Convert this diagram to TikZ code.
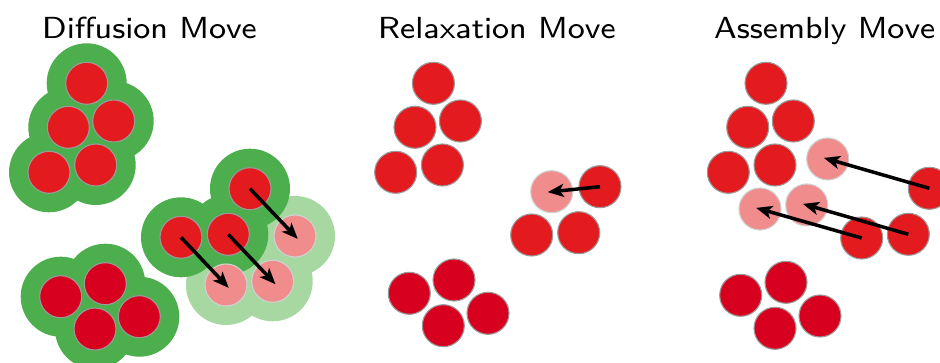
\documentclass[tikz,border=0pt]{standalone}
\usetikzlibrary{arrows.meta}
\definecolor{cred}{HTML}{E31B1F}
\definecolor{dred}{HTML}{D7001E}
\definecolor{dgreen}{HTML}{4DAE4D}
\definecolor{lgreen}{HTML}{A8D8A2}
\definecolor{cpink}{HTML}{F08C8C}
\definecolor{rim}{HTML}{9A9A9A}
\definecolor{lrim}{HTML}{D0D0D0}
\font\ttlfont="[lmsans8-regular.otf]" at 30.5pt
\newcommand{\ttltext}[1]{\scalebox{1.05}[1]{\ttlfont #1}}
\begin{document}
\begin{tikzpicture}[x=1pt,y=-1pt,
  halo/.style={circle,fill=dgreen,minimum size=80pt,inner sep=0pt},
  lhalo/.style={circle,fill=lgreen,minimum size=80pt,inner sep=0pt},
  rc/.style={circle,fill=cred,draw=rim,line width=1.1pt,minimum size=42pt,inner sep=0pt},
  drc/.style={rc,fill=dred},
  gc/.style={rc,fill=cpink,draw=lrim},
  mv/.style={line width=3.5pt,-{Stealth[length=16pt,width=13pt,inset=4pt]},shorten >=-4pt},
  ttl/.style={anchor=base west,inner sep=0pt}]
\useasboundingbox (0,0) rectangle (940,363);
% titles
\node[ttl] (t1) at (42,38.5) {\ttltext{Diffusion Move}};
\node[ttl] (t2) at (378,38.5) {\ttltext{Relaxation Move}};
\node[ttl] (t3) at (714,38.5) {\ttltext{Assembly Move}};
% ---------- Diffusion ----------
\foreach \n/\p in {la/{(295,236)},lb/{(226,285)},lc/{(272.7,281.3)}}
  \node[lhalo] (\n) at \p {};
\foreach \n/\p in {ha1/{(86.7,83.3)},ha2/{(68.3,127.3)},ha3/{(113.7,121)},ha4/{(49,172.3)},ha5/{(95.7,165)},
  hb1/{(60.7,296.7)},hb2/{(105.3,283.7)},hb3/{(95,329)},hb4/{(139.3,316.7)},
  hm1/{(250,188.7)},hm2/{(181,237.3)},hm3/{(228.3,234.3)}}
  \node[halo] (\n) at \p {};
\node[gc] (dg1) at (295,236) {};
\node[gc] (dg2) at (226,285) {};
\node[gc] (dg3) at (272.7,281.3) {};
\node[rc] (da1) at (86.7,83.3) {};
\node[rc] (da2) at (68.3,127.3) {};
\node[rc] (da3) at (113.7,121) {};
\node[rc] (da4) at (49,172.3) {};
\node[rc] (da5) at (95.7,165) {};
\node[drc] (db1) at (60.7,296.7) {};
\node[drc] (db2) at (105.3,283.7) {};
\node[drc] (db3) at (95,329) {};
\node[drc] (db4) at (139.3,316.7) {};
\node[rc] (dm1) at (250,188.7) {};
\node[rc] (dm2) at (181,237.3) {};
\node[rc] (dm3) at (228.3,234.3) {};
\draw[mv] (dm1.center) -- (dg1.center);
\draw[mv] (dm2.center) -- (dg2.center);
\draw[mv] (dm3.center) -- (dg3.center);
% ---------- Relaxation ----------
\node[rc] (ra1) at (433.4,83.3) {};
\node[rc] (ra2) at (415,127.3) {};
\node[rc] (ra3) at (460.4,121) {};
\node[rc] (ra4) at (395.7,172.3) {};
\node[rc] (ra5) at (442.4,165) {};
\node[drc] (rb1) at (409.3,293.3) {};
\node[drc] (rb2) at (454,280) {};
\node[drc] (rb3) at (443.3,325.7) {};
\node[drc] (rb4) at (488,313.3) {};
\node[gc] (rg1) at (551.7,191.7) {};
\node[rc] (rm1) at (600,186.7) {};
\node[rc] (rm2) at (531.7,235) {};
\node[rc] (rm3) at (578.7,232.7) {};
\draw[mv] (rm1.center) -- (rg1.center);
% ---------- Assembly ----------
\node[rc] (aa1) at (766,83.3) {};
\node[rc] (aa2) at (747.7,127.3) {};
\node[rc] (aa3) at (793.3,121) {};
\node[rc] (aa4) at (728.3,172.3) {};
\node[rc] (aa5) at (775,165) {};
\node[gc] (ag1) at (827.7,159) {};
\node[gc] (ag2) at (760,209) {};
\node[gc] (ag3) at (806.7,205) {};
\node[rc] (am1) at (929.3,188.3) {};
\node[rc] (am2) at (861.7,238) {};
\node[rc] (am3) at (908.3,234.3) {};
\node[drc] (ab1) at (740.7,295.3) {};
\node[drc] (ab2) at (786,282.3) {};
\node[drc] (ab3) at (775,328.3) {};
\node[drc] (ab4) at (820,316) {};
\draw[mv] (am1.center) -- (ag1.center);
\draw[mv] (am3.center) -- (ag3.center);
\draw[mv] (am2.center) -- (ag2.center);
\end{tikzpicture}
\end{document}
